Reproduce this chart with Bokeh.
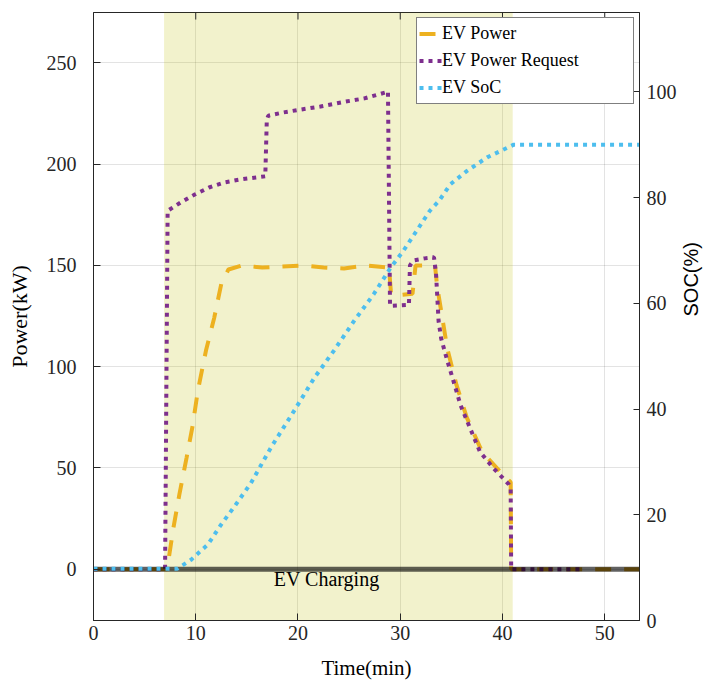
import math
from bokeh.plotting import figure
from bokeh.models import Range1d, LinearAxis, FixedTicker, Legend, LegendItem, Label
from bokeh.embed import file_html
from bokeh.resources import INLINE

# ---------------- data ----------------
time_power = [0.0, 7.2, 7.8, 8.4, 9.1, 9.7, 10.2, 11.0, 11.8, 12.5, 13.2, 14.5, 16.5, 18.5,
              20.5, 22.5, 24.5, 26.5, 28.9, 29.1, 30.2, 31.2, 31.5, 33.4, 33.6, 34.6, 35.5,
              36.5, 38.0, 39.8, 40.8, 40.85, 53.4]
ev_power = [0, 0, 20, 37, 55, 71, 88, 108, 124, 141, 148, 150, 149, 149.5,
            150, 149, 148.5, 150, 149, 136, 135.5, 136, 150, 150, 140, 109, 91,
            75, 58, 48, 43, 0, 0]

time_request = [0.0, 7.0, 7.25, 8.5, 9.9, 11.3, 12.8, 14.4, 16.8, 16.95, 17.1, 18.5, 20.3,
                22.2, 24.2, 26.5, 28.6, 28.8, 29.0, 30.85, 30.95, 31.3, 32.4, 33.3, 33.5,
                33.75, 34.0, 34.6, 35.2, 35.9, 36.8, 37.8, 39.1, 40.6, 40.8, 40.85, 47.7]
ev_request = [0, 0, 177, 181, 185, 188.5, 191, 192.5, 194, 222, 224, 225.5, 227,
              228.5, 230.5, 232.5, 235.5, 236, 130, 130.5, 150, 152.5, 153.5, 154, 146,
              122.5, 114, 103, 93, 81, 70, 58, 50, 42, 40, 0, 0]

time_soc = [0.0, 8.2, 9.55, 11.2, 12.5, 13.8, 15.4, 17.35, 19.6, 21.6, 23.5, 25.5, 27.4,
            29.05, 30.3, 31.6, 32.9, 33.8, 34.9, 36.5, 38.5, 39.8, 41.1, 53.4]
ev_soc = [9.8, 9.8, 11.5, 14.4, 18.2, 21.6, 26.0, 32.7, 39.6, 45.9, 51.0, 56.7, 61.7,
          66.7, 69.9, 73.7, 77.5, 79.4, 82.5, 85.0, 87.6, 88.8, 90.0, 90.0]

charging_window = [6.9, 41.0]          # shaded "EV Charging" interval (min)
baseline_time = [0.0, 53.4]
baseline_power = [0, 0]

x_ticks = [0, 10, 20, 30, 40, 50]
power_ticks = [0, 50, 100, 150, 200, 250]
soc_ticks = [0, 20, 40, 60, 80, 100]

# ---------------- styles ----------------
SERIF = "Liberation Serif"
AX = "#262626"
C_POWER = "#EDB120"
C_REQ = "#7E2F8E"
C_SOC = "#4DBEEE"

x_range = Range1d(0, 53.4)
y_range = Range1d(-25.3, 274.9)

p = figure(frame_width=546, frame_height=608,
           min_border_left=93, min_border_right=76, min_border_top=12, min_border_bottom=65,
           x_range=x_range, y_range=y_range,
           output_backend="svg", toolbar_location=None)
p.extra_y_ranges = {"soc": Range1d(0, 115)}

p.background_fill_color = "white"
p.border_fill_color = "white"
p.outline_line_color = AX
p.outline_line_width = 1

# grid
p.xgrid.ticker = FixedTicker(ticks=x_ticks)
p.ygrid.ticker = FixedTicker(ticks=power_ticks)
for g in (p.xgrid, p.ygrid):
    g.grid_line_color = AX
    g.grid_line_alpha = 0.13
    g.grid_line_width = 1

# shaded charging window
p.quad(left=[charging_window[0]], right=[charging_window[1]],
       bottom=[y_range.start], top=[y_range.end],
       fill_color="#BFBF00", fill_alpha=0.2, line_color=None)

# mirrored x ticks on the top edge of the box (half of each dash is clipped by the frame)
p.scatter(x=x_ticks, y=[y_range.end] * len(x_ticks), marker="dash", size=14,
          angle=math.pi / 2, line_color=AX, line_width=1)

# series
r_power = p.line(time_power, ev_power, line_color=C_POWER, line_width=4,
                 line_dash="16 13")
r_req = p.line(time_request, ev_request, line_color=C_REQ, line_width=4,
               line_dash="4 5")
p.line(baseline_time, baseline_power, line_color="black", line_alpha=0.62, line_width=5)
r_soc = p.line(time_soc, ev_soc, line_color=C_SOC, line_width=4, line_dash="4 5",
               y_range_name="soc")

p.add_layout(Label(x=22.8, y=-4.9, text="EV Charging", text_font=SERIF,
                   text_font_size="20px", text_align="center",
                   text_baseline="alphabetic", text_color="black"))

# axes
def style_axis(ax, ticks):
    ax.ticker = FixedTicker(ticks=ticks)
    ax.axis_line_color = AX
    ax.axis_line_width = 1
    ax.major_tick_line_color = AX
    ax.major_tick_in = 7
    ax.major_tick_out = 0
    ax.minor_tick_line_color = None
    ax.major_label_text_font = SERIF
    ax.major_label_text_font_size = "20px"
    ax.major_label_text_color = AX
    ax.axis_label_text_font_style = "normal"
    ax.axis_label_text_color = "black"

xa = p.xaxis[0]
style_axis(xa, x_ticks)
xa.major_label_standoff = 5
xa.axis_label = "Time(min)"
xa.axis_label_text_font = SERIF
xa.axis_label_text_font_size = "21px"
xa.axis_label_standoff = 13

ya = p.yaxis[0]
style_axis(ya, power_ticks)
ya.major_label_standoff = 17
ya.axis_label = "Power(kW)"
ya.axis_label_text_font = SERIF
ya.axis_label_text_font_size = "22px"
ya.axis_label_standoff = 12

ra = LinearAxis(y_range_name="soc")
style_axis(ra, soc_ticks)
ra.major_tick_in = 6
ra.major_label_standoff = 7
ra.axis_label = "SOC(%)"
ra.axis_label_text_font = "Liberation Sans"
ra.axis_label_text_font_size = "20px"
ra.axis_label_standoff = 11
try:
    ra.axis_label_orientation = math.pi / 2
except Exception:
    pass
p.add_layout(ra, "right")

# legend
legend = Legend(items=[LegendItem(label="EV Power", renderers=[r_power]),
                       LegendItem(label="EV Power Request", renderers=[r_req]),
                       LegendItem(label="EV SoC", renderers=[r_soc])],
                location="top_right", margin=5, padding=2, spacing=0,
                glyph_width=23, glyph_height=27, label_height=27, label_width=189,
                label_standoff=0, label_text_font=SERIF, label_text_font_size="18px",
                label_text_color="black",
                border_line_color="black", border_line_width=1.3,
                background_fill_color="white", background_fill_alpha=1)
p.add_layout(legend)

open("out.html", "w").write(file_html(p, INLINE))
